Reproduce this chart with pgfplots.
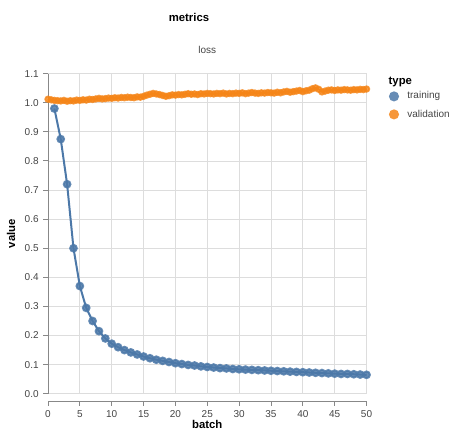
\documentclass[border=0pt]{standalone}
\usepackage{pgfplots}
\pgfplotsset{compat=1.18}
\usepackage{fontspec}
\setmainfont{Liberation Sans}
\definecolor{vblue}{HTML}{4C78A8}
\definecolor{vorange}{HTML}{F58518}
\definecolor{gridc}{HTML}{DDDDDD}
\definecolor{axc}{HTML}{888888}
\definecolor{labc}{HTML}{444444}
\begin{document}
\begin{tikzpicture}
\useasboundingbox (-36pt,-27.15pt) rectangle (306pt,295.3pt);
\begin{axis}[
  at={(0,0)}, anchor=south west,
  scale only axis, width=238.9pt, height=240.1pt,
  xmin=0, xmax=50, ymin=0, ymax=1.1,
  xtick={0,5,...,50}, ytick={0,0.1,...,1.1},
  grid=major, grid style={gridc, line width=0.6pt},
  axis x line*=bottom, axis y line*=left,
  x axis line style={draw=none}, xticklabels={},
  axis line style={axc, line width=0.7pt, -},
  tick align=outside,
  xtick style={draw=none},
  ytick style={axc, line width=0.7pt},
  major tick length=3.5pt,
  yticklabel style={font=\fontsize{7.5}{9}\selectfont, labc, /pgf/number format/fixed, /pgf/number format/precision=1, /pgf/number format/fixed zerofill},
  /pgf/number format/assume math mode=true,
  ylabel={\textbf{value}}, ylabel style={font=\fontsize{8.5}{10}\selectfont, black, at={(axis description cs:0,0.5)}, anchor=south, yshift=21pt},
  clip=false,
]
\addplot[vorange, line width=1.3pt, mark=*, mark size=2.1pt, mark options={fill=vorange, draw=vorange, fill opacity=0.8, draw opacity=0.8}] coordinates {
(0,1.012)(0.5,1.010)(1,1.008)(1.5,1.007)(2,1.006)(2.5,1.008)(3,1.005)(3.5,1.007)(4,1.006)(4.5,1.009)
(5,1.008)(5.5,1.010)(6,1.009)(6.5,1.012)(7,1.011)(7.5,1.013)(8,1.015)(8.5,1.013)(9,1.014)(9.5,1.016)
(10,1.015)(10.5,1.017)(11,1.016)(11.5,1.018)(12,1.017)(12.5,1.019)(13,1.018)(13.5,1.017)(14,1.020)(14.5,1.019)
(15,1.022)(15.5,1.026)(16,1.029)(16.5,1.032)(17,1.030)(17.5,1.028)(18,1.025)(18.5,1.022)(19,1.024)(19.5,1.027)
(20,1.026)(20.5,1.028)(21,1.027)(21.5,1.029)(22,1.031)(22.5,1.029)(23,1.030)(23.5,1.028)(24,1.031)(24.5,1.030)
(25,1.032)(25.5,1.031)(26,1.030)(26.5,1.032)(27,1.031)(27.5,1.033)(28,1.030)(28.5,1.032)(29,1.031)(29.5,1.033)
(30,1.032)(30.5,1.034)(31,1.031)(31.5,1.033)(32,1.035)(32.5,1.033)(33,1.032)(33.5,1.034)(34,1.033)(34.5,1.035)
(35,1.034)(35.5,1.033)(36,1.036)(36.5,1.034)(37,1.037)(37.5,1.039)(38,1.036)(38.5,1.038)(39,1.040)(39.5,1.042)
(40,1.038)(40.5,1.041)(41,1.043)(41.5,1.048)(42,1.051)(42.5,1.046)(43,1.037)(43.5,1.040)(44,1.043)(44.5,1.044)
(45,1.042)(45.5,1.044)(46,1.043)(46.5,1.045)(47,1.044)(47.5,1.043)(48,1.045)(48.5,1.044)(49,1.046)(49.5,1.045)(50,1.047)
};
\addplot[vblue, line width=1.5pt, mark=*, mark size=2.5pt, mark options={fill=vblue, draw=vblue, fill opacity=0.85, draw opacity=0.85}] coordinates {
(1,0.98)(2,0.875)(3,0.72)(4,0.50)(5,0.37)(6,0.295)(7,0.25)(8,0.215)(9,0.19)(10,0.172)
(11,0.16)(12,0.15)(13,0.142)(14,0.135)(15,0.128)(16,0.122)(17,0.117)(18,0.113)(19,0.109)(20,0.105)
(21,0.102)(22,0.099)(23,0.097)(24,0.094)(25,0.092)(26,0.090)(27,0.088)(28,0.087)(29,0.085)(30,0.084)
(31,0.083)(32,0.082)(33,0.081)(34,0.080)(35,0.079)(36,0.078)(37,0.077)(38,0.076)(39,0.075)(40,0.074)
(41,0.073)(42,0.072)(43,0.071)(44,0.070)(45,0.069)(46,0.068)(47,0.068)(48,0.067)(49,0.066)(50,0.065)
};
\end{axis}
\begin{axis}[
  at={(0,-5.5pt)}, anchor=south west,
  scale only axis, width=238.9pt, height=1pt,
  xmin=0, xmax=50, ymin=0, ymax=1,
  xtick={0,5,...,50},
  axis x line*=bottom, axis y line=none,
  axis line style={axc, line width=0.7pt, -},
  tick align=outside, major tick length=3.5pt,
  xtick style={axc, line width=0.7pt},
  xticklabel style={font=\fontsize{7.5}{9}\selectfont, labc},
  /pgf/number format/assume math mode=true,
  xlabel={\textbf{batch}}, xlabel style={font=\fontsize{8.5}{10}\selectfont, black, yshift=5pt},
]
\addplot[draw=none, forget plot] coordinates {(0,0)(50,0)};
\end{axis}
\node[font=\bfseries\fontsize{8.5}{10}\selectfont, black] at (105.75pt,281.9pt) {metrics};
\node[font=\fontsize{7.5}{9}\selectfont, labc] at (119.4pt,257.9pt) {loss};
\node[font=\bfseries\fontsize{8.5}{10}\selectfont, black, anchor=west] at (252pt,234pt) {type};
\fill[vblue, opacity=0.85] (259.5pt,223pt) circle (3.8pt);
\fill[vorange, opacity=0.85] (259.5pt,209.5pt) circle (3.8pt);
\node[font=\fontsize{7.5}{9}\selectfont, labc, anchor=west] at (266pt,223pt) {training};
\node[font=\fontsize{7.5}{9}\selectfont, labc, anchor=west] at (266pt,209.5pt) {validation};
\end{tikzpicture}
\end{document}
